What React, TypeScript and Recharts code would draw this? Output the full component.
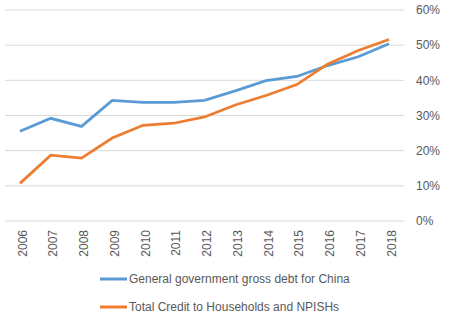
import { LineChart, Line, XAxis, YAxis, CartesianGrid, Legend } from 'recharts';

const YEARS = ['2006', '2007', '2008', '2009', '2010', '2011', '2012', '2013', '2014', '2015', '2016', '2017', '2018'];
const GOV_DEBT = [25.5, 29.2, 26.9, 34.3, 33.7, 33.7, 34.3, 37.0, 39.9, 41.1, 44.2, 46.7, 50.4];
const HH_CREDIT = [10.7, 18.7, 17.9, 23.6, 27.2, 27.8, 29.6, 33.0, 35.7, 38.8, 44.6, 48.5, 51.6];
const Y_TICKS = [0, 10, 20, 30, 40, 50, 60];

const SERIES = [
  { key: 'gov', name: 'General government gross debt for China', color: '#5B9BD5' },
  { key: 'hh', name: 'Total Credit to Households and NPISHs', color: '#ED7D31' },
];

const FONT = '"Liberation Sans", Arial, sans-serif';
const TEXT = '#595959';

const data = YEARS.map((year, i) => ({ year, gov: GOV_DEBT[i], hh: HH_CREDIT[i] }));

function YearTick({ x, y, payload }: any) {
  return (
    <text
      x={x}
      y={y}
      transform={`rotate(-90, ${x}, ${y})`}
      textAnchor="end"
      dy="0.55em"
      fill={TEXT}
      fontSize={12}
      fontFamily={FONT}
    >
      {payload.value}
    </text>
  );
}

function LegendBox() {
  return (
    <div style={{ fontFamily: FONT, fontSize: 12, color: TEXT }}>
      {SERIES.map((s) => (
        <div key={s.key} style={{ display: 'flex', alignItems: 'center', height: 28 }}>
          <svg width={29} height={6} style={{ marginRight: 0 }}>
            <line x1={0} y1={3} x2={27} y2={3} stroke={s.color} strokeWidth={3} />
          </svg>
          <span>{s.name}</span>
        </div>
      ))}
    </div>
  );
}

export default function App() {
  return (
    <div style={{ position: 'absolute', left: 0, top: 0, background: '#fff' }}>
      <LineChart width={452} height={322} data={data} margin={{ top: 10, right: 0, left: 5, bottom: 61 }}>
        <CartesianGrid vertical={false} stroke="#D9D9D9" />
        <XAxis
          dataKey="year"
          interval={0}
          axisLine={false}
          tickLine={false}
          tickSize={0}
          tickMargin={9}
          height={40}
          padding={{ left: 15, right: 15 }}
          tick={<YearTick />}
        />
        <YAxis
          orientation="right"
          domain={[0, 60]}
          ticks={Y_TICKS}
          axisLine={false}
          tickLine={false}
          tickSize={0}
          tickMargin={12}
          width={48}
          tickFormatter={(v) => `${v}%`}
          tick={{ fill: TEXT, fontSize: 12, fontFamily: FONT }}
        />
        <Legend
          layout="horizontal"
          verticalAlign="middle"
          align="center"
          content={() => <LegendBox />}
          wrapperStyle={{ left: 100, top: 265, width: 340 }}
        />
        {SERIES.map((s) => (
          <Line
            key={s.key}
            type="linear"
            dataKey={s.key}
            name={s.name}
            stroke={s.color}
            strokeWidth={2.75}
            dot={false}
            isAnimationActive={false}
          />
        ))}
      </LineChart>
    </div>
  );
}
